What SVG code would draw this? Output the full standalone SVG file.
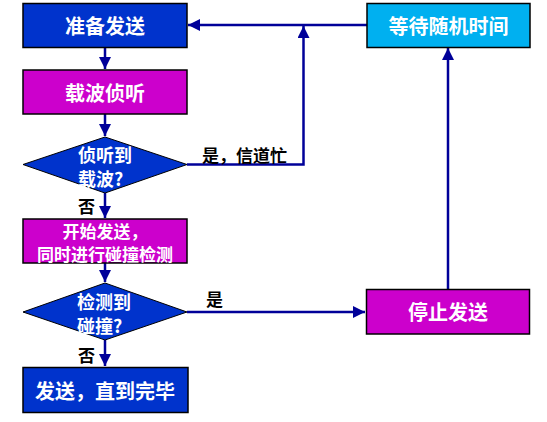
<svg xmlns="http://www.w3.org/2000/svg" width="547" height="422" viewBox="0 0 547 422">
<style>
.box{stroke:#000;stroke-width:1.5}
.blue{fill:#0033CC}
.mag{fill:#CC00CC}
.cyan{fill:#00B0F0}
.t{font-family:"Noto Sans CJK SC","Noto Sans",sans-serif;font-weight:bold;fill:#fff;font-size:20px;text-anchor:middle;dominant-baseline:central}
.ts{font-size:17px}
.dt{font-family:"Noto Sans CJK SC","Noto Sans",sans-serif;font-weight:bold;fill:#fff;font-size:18px;dominant-baseline:central}
.lbl{font-family:"Noto Sans CJK SC","Noto Sans",sans-serif;font-weight:bold;fill:#000;font-size:17px;dominant-baseline:central}
.c{fill:none;stroke:#000099;stroke-width:2.5}
</style>
<defs>
<marker id="ah" markerUnits="userSpaceOnUse" markerWidth="12" markerHeight="12" viewBox="0 0 12 12" refX="12" refY="6" orient="auto">
<path d="M0,0 L12,6 L0,12 Z" fill="#000099"/>
</marker>
</defs>
<rect width="547" height="422" fill="#fff"/>
<g id="connectors">
<path class="c" d="M105,48 V69" marker-end="url(#ah)"/>
<path class="c" d="M105,114 V136" marker-end="url(#ah)"/>
<path class="c" d="M105,193 V218" marker-end="url(#ah)"/>
<path class="c" d="M105,263 V282" marker-end="url(#ah)"/>
<path class="c" d="M105,340 V366" marker-end="url(#ah)"/>
<path class="c" d="M187,164.5 H303.5 V26" marker-end="url(#ah)"/>
<path class="c" d="M367,25 H188" marker-end="url(#ah)"/>
<path class="c" d="M187,312 H365" marker-end="url(#ah)"/>
<path class="c" d="M448,289 V48" marker-end="url(#ah)"/>
<text class="lbl" x="202" y="154">是，信道忙</text>
<text class="lbl" x="78" y="205">否</text>
<text class="lbl" x="206" y="298">是</text>
<text class="lbl" x="78" y="354">否</text>
</g>
<g id="prepare">
<rect class="box blue" x="23" y="3.5" width="164" height="44"/>
<text class="t" x="105" y="25.5">准备发送</text>
</g>
<g id="sense">
<rect class="box mag" x="23" y="70" width="164" height="44"/>
<text class="t" x="105" y="92">载波侦听</text>
</g>
<g id="carrier">
<polygon class="blue" stroke="#000" stroke-width="1" points="105,137 187,164.5 105,193 23,164.5"/>
<text class="dt"><tspan x="78" y="153.5">侦听到</tspan><tspan x="78" y="177.5">载波?</tspan></text>
</g>
<g id="start">
<rect class="box mag" x="23" y="219" width="164" height="44"/>
<text class="t ts"><tspan x="105" y="229.5">开始发送，</tspan><tspan x="105" y="252.5">同时进行碰撞检测</tspan></text>
</g>
<g id="collision">
<polygon class="blue" stroke="#000" stroke-width="1" points="105,283 187,312 105,340 23,312"/>
<text class="dt"><tspan x="77" y="301">检测到</tspan><tspan x="77" y="325">碰撞?</tspan></text>
</g>
<g id="finish">
<rect class="box blue" x="23" y="367.5" width="165" height="45"/>
<text class="t" x="105" y="390">发送，直到完毕</text>
</g>
<g id="wait">
<rect class="box cyan" x="367" y="3.5" width="163" height="44"/>
<text class="t" x="448.5" y="25.5">等待随机时间</text>
</g>
<g id="stop">
<rect class="box mag" x="366.5" y="289.5" width="163" height="44.5"/>
<text class="t" x="448" y="311.5">停止发送</text>
</g>
</svg>
